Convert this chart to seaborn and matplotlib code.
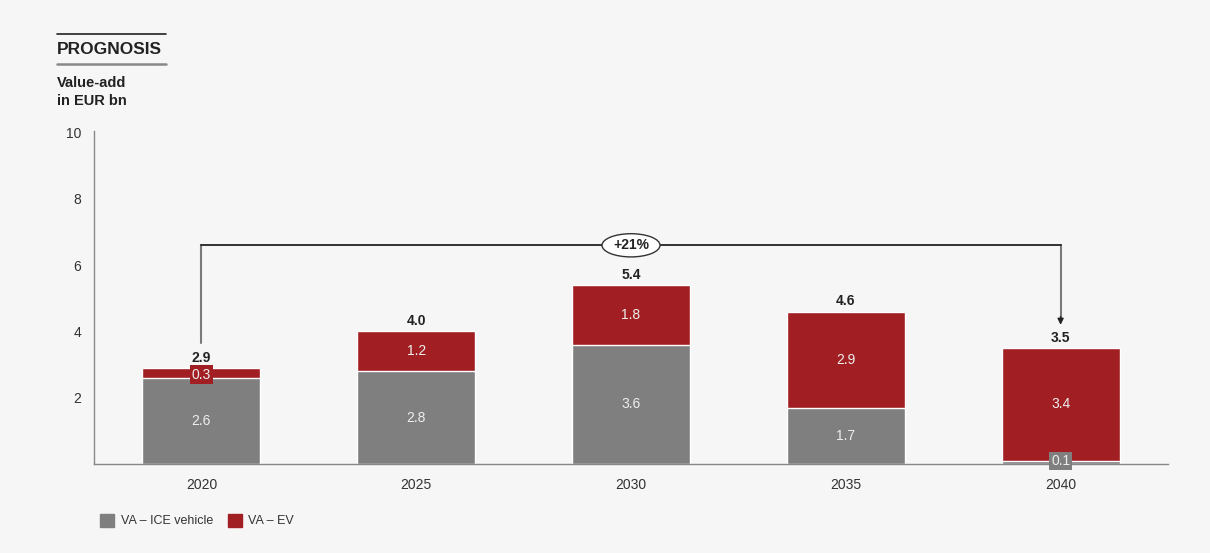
import pandas as pd
import matplotlib.pyplot as plt
import seaborn as sns
from matplotlib.patches import Ellipse, Rectangle

# data
years = ['2020', '2025', '2030', '2035', '2040']
ice = [2.6, 2.8, 3.6, 1.7, 0.1]
ev = [0.3, 1.2, 1.8, 2.9, 3.4]
totals = [2.9, 4.0, 5.4, 4.6, 3.5]
growth_label = '+21%'

df = pd.DataFrame({'year': years, 'ice': ice, 'ev': ev, 'total': totals})

GRAY = '#7f7f7f'
RED = '#a11f22'
BG = '#f6f6f6'

sns.set_theme(style='white')
plt.rcParams['font.family'] = ['Liberation Sans', 'DejaVu Sans']

fig = plt.figure(figsize=(12.1, 5.53), dpi=100, facecolor=BG)
ax = fig.add_axes([94/1210, 1-464/553, (1168-94)/1210, (464-131)/553])
ax.set_facecolor(BG)

# stacked bars: total (red) underneath, ICE (gray) drawn over it from zero
sns.barplot(data=df, x='year', y='total', color=RED, width=0.55, saturation=1, ax=ax)
sns.barplot(data=df, x='year', y='ice', color=GRAY, width=0.55, saturation=1, ax=ax)

ax.set_xlim(-0.5, 4.5)
ax.set_ylim(0, 10.05)
ax.set_yticks([2, 4, 6, 8, 10])
ax.set_xlabel('')
ax.set_ylabel('')
ax.tick_params(axis='both', length=0, labelsize=10, colors='#333333')
ax.tick_params(axis='y', pad=9)
ax.tick_params(axis='x', pad=10)
for s in ['top', 'right']:
    ax.spines[s].set_visible(False)
for s in ['left', 'bottom']:
    ax.spines[s].set_color('#888888')
    ax.spines[s].set_linewidth(1)

# segment labels
for i, row in df.iterrows():
    if row.ice >= 1:
        ax.text(i, row.ice / 2, f'{row.ice:.1f}', ha='center', va='center',
                color='#eeeeee', fontsize=10)
    if row.ev >= 1:
        ax.text(i, row.ice + row.ev / 2, f'{row.ev:.1f}', ha='center', va='center',
                color='#eeeeee', fontsize=10)
    ax.text(i, row.total + 0.1, f'{row.total:.1f}', ha='center', va='bottom',
            color='#222222', fontsize=10, fontweight='bold')

# small segments get a boxed label
ax.text(0, ice[0] + ev[0] / 2 - 0.05, f'{ev[0]:.1f}', ha='center', va='center',
        color='#eeeeee', fontsize=10,
        bbox=dict(boxstyle='square,pad=0.15', fc=RED, ec='none'))
ax.text(4, ice[4], f'{ice[4]:.1f}', ha='center', va='center',
        color='#eeeeee', fontsize=10,
        bbox=dict(boxstyle='square,pad=0.15', fc=GRAY, ec='none'))

# growth bracket 2020 -> 2040
ytop = 6.6
ax.plot([0, 0], [3.65, ytop], color='#7a7a7a', lw=1.5, clip_on=False)
ax.plot([4, 4], [ytop, 4.4], color='#7a7a7a', lw=1.5, clip_on=False)
ax.plot([0, 4], [ytop, ytop], color='#222222', lw=1.3, clip_on=False)
ax.annotate('', xy=(4, 4.2), xytext=(4, 4.45),
            arrowprops=dict(arrowstyle='-|>', color='#222222', lw=1.0,
                            mutation_scale=9, shrinkA=0, shrinkB=0))
ax.add_patch(Ellipse((2, ytop), 0.27, 0.7, fc='white', ec='#333333', lw=1, zorder=5))
ax.text(2, ytop, growth_label, ha='center', va='center', fontsize=10,
        fontweight='bold', color='#222222', zorder=6)

# header
fig.add_artist(plt.Line2D([57/1210, 166/1210], [1-34/553, 1-34/553], color='#222222', lw=1.2))
fig.add_artist(plt.Line2D([57/1210, 166/1210], [1-64/553, 1-64/553], color='#888888', lw=1.8))
fig.text(57/1210, 1-49/553, 'PROGNOSIS', fontsize=12.5, fontweight='bold',
         color='#222222', va='center', ha='left')
fig.text(57/1210, 1-92/553, 'Value-add\nin EUR bn', fontsize=10.5, fontweight='bold',
         color='#222222', va='center', ha='left', linespacing=1.3)

# legend
fig.add_artist(Rectangle((100/1210, 1-527/553), 14/1210, 13/553, color=GRAY,
                         transform=fig.transFigure))
fig.text(121/1210, 1-521/553, 'VA – ICE vehicle', fontsize=9, color='#333333', va='center')
fig.add_artist(Rectangle((228/1210, 1-527/553), 14/1210, 13/553, color=RED,
                         transform=fig.transFigure))
fig.text(248/1210, 1-521/553, 'VA – EV', fontsize=9, color='#333333', va='center')

fig.savefig('out.png', dpi=100, facecolor=BG)
